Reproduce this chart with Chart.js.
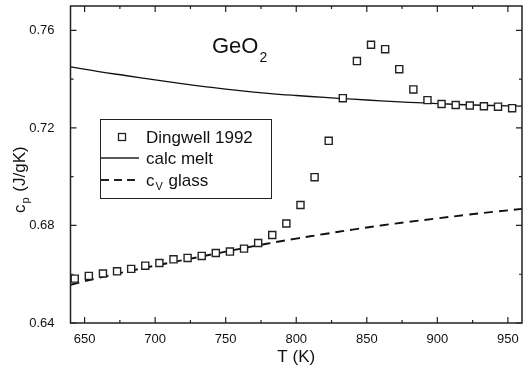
<!DOCTYPE html>
<html>
<head>
<meta charset="utf-8">
<script src="https://cdn.jsdelivr.net/npm/chart.js@4.4.1/dist/chart.umd.min.js"></script>
<style>
  html, body { margin: 0; padding: 0; background: #fff; }
  #wrap { width: 524px; height: 372px; }
</style>
</head>
<body>
<div id="wrap"><canvas id="cpChart" width="524" height="372"></canvas></div>
<script>
// Dingwell 1992 measurements
const dingwellT = [643, 653, 663, 673, 683, 693, 703, 713, 723, 733, 743, 753, 763, 773, 783, 793,
  803, 813, 823, 833, 843, 853, 863, 873, 883, 893, 903, 913, 923, 933, 943, 953];
const dingwellCp = [0.6582, 0.6593, 0.6603, 0.6612, 0.6622, 0.6635, 0.6646, 0.6661, 0.6667, 0.6675,
  0.6687, 0.6693, 0.6705, 0.6728, 0.6761, 0.6808, 0.6884, 0.6998, 0.7147, 0.7322, 0.7474, 0.7541,
  0.7523, 0.7441, 0.7358, 0.7314, 0.7298, 0.7294, 0.7292, 0.7289, 0.7287, 0.7281];

// calc melt curve
const meltT = [640, 660, 680, 700, 720, 740, 760, 780, 800, 820, 840, 860, 880, 900, 920, 940, 960];
const meltCp = [0.7450, 0.7431, 0.7414, 0.7397, 0.7381, 0.7366, 0.7353, 0.7342, 0.7333, 0.7325,
  0.7318, 0.7311, 0.7305, 0.7300, 0.7295, 0.7292, 0.7289];

// cV glass curve
const glassT = [640, 660, 680, 700, 720, 740, 760, 780, 800, 820, 840, 860, 880, 900, 920, 940, 960];
const glassCp = [0.6557, 0.6585, 0.6611, 0.6635, 0.6658, 0.6681, 0.6704, 0.6726, 0.6746, 0.6765,
  0.6783, 0.6800, 0.6815, 0.6829, 0.6843, 0.6856, 0.6868];

const xMajor = [650, 700, 750, 800, 850, 900, 950];
const xMinor = [675, 725, 775, 825, 875, 925];
const yMajor = [0.64, 0.68, 0.72, 0.76];
const yMinor = [0.66, 0.70, 0.74];
const yLabels = ['0.64', '0.68', '0.72', '0.76'];

const FONT = '"Liberation Sans", Arial, sans-serif';
const toXY = (xs, ys) => xs.map((x, i) => ({ x, y: ys[i] }));

const frame = {
  id: 'frame',
  afterDraw(chart) {
    const { ctx, chartArea: a, scales: { x, y } } = chart;
    ctx.save();
    ctx.strokeStyle = '#222';
    ctx.lineWidth = 1.5;
    ctx.strokeRect(a.left, a.top, a.right - a.left, a.bottom - a.top);

    ctx.lineWidth = 1.2;
    ctx.beginPath();
    const tickX = (v, len) => {
      const px = x.getPixelForValue(v);
      ctx.moveTo(px, a.bottom); ctx.lineTo(px, a.bottom - len);
      ctx.moveTo(px, a.top); ctx.lineTo(px, a.top + len);
    };
    const tickY = (v, len) => {
      const py = y.getPixelForValue(v);
      ctx.moveTo(a.left, py); ctx.lineTo(a.left + len, py);
      ctx.moveTo(a.right, py); ctx.lineTo(a.right - len, py);
    };
    xMajor.forEach(v => tickX(v, 6));
    xMinor.forEach(v => tickX(v, 3));
    yMajor.forEach(v => tickY(v, 6));
    yMinor.forEach(v => tickY(v, 3));
    ctx.stroke();

    // axis titles
    ctx.fillStyle = '#111';
    ctx.textBaseline = 'alphabetic';
    ctx.font = '17px ' + FONT;
    ctx.textAlign = 'center';
    ctx.fillText('T (K)', (a.left + a.right) / 2, 362);

    ctx.save();
    ctx.translate(25, 213);
    ctx.rotate(-Math.PI / 2);
    ctx.textAlign = 'left';
    ctx.font = '17px ' + FONT;
    ctx.fillText('c', 0, 0);
    let w = ctx.measureText('c').width;
    ctx.font = '11px ' + FONT;
    ctx.fillText('p', w + 1, 4);
    w += ctx.measureText('p').width + 2;
    ctx.font = '17px ' + FONT;
    ctx.fillText(' (J/gK)', w, 0);
    ctx.restore();

    // GeO2 label
    ctx.textAlign = 'left';
    ctx.font = '22px ' + FONT;
    ctx.fillText('GeO', 212, 53);
    const gw = ctx.measureText('GeO').width;
    ctx.font = '14px ' + FONT;
    ctx.fillText('2', 212 + gw + 1, 62);

    // legend box
    ctx.fillStyle = '#fff';
    ctx.fillRect(100, 119, 171, 79);
    ctx.strokeStyle = '#222';
    ctx.lineWidth = 1;
    ctx.strokeRect(100.5, 119.5, 171, 79);

    ctx.lineWidth = 1.3;
    ctx.strokeRect(118.5, 133.5, 7, 7);

    ctx.beginPath();
    ctx.lineWidth = 1.3;
    ctx.moveTo(101, 158); ctx.lineTo(139, 158);
    ctx.stroke();

    ctx.beginPath();
    ctx.lineWidth = 1.8;
    ctx.setLineDash([8, 5]);
    ctx.moveTo(101, 180); ctx.lineTo(140, 180);
    ctx.stroke();
    ctx.setLineDash([]);

    ctx.fillStyle = '#111';
    ctx.font = '17px ' + FONT;
    ctx.fillText('Dingwell 1992', 146, 143);
    ctx.fillText('calc melt', 146, 164);
    ctx.fillText('c', 146, 186);
    const cw = ctx.measureText('c').width;
    ctx.font = '11px ' + FONT;
    ctx.fillText('V', 146 + cw + 1, 190);
    const vw = ctx.measureText('V').width;
    ctx.font = '17px ' + FONT;
    ctx.fillText(' glass', 146 + cw + vw + 2, 186);
    ctx.restore();
  }
};

const zeroPad = s => { s.paddingLeft = 0; s.paddingRight = 0; s.paddingTop = 0; s.paddingBottom = 0; };

new Chart(document.getElementById('cpChart'), {
  type: 'scatter',
  data: {
    datasets: [
      {
        label: 'Dingwell 1992',
        data: toXY(dingwellT, dingwellCp),
        pointStyle: 'rect',
        pointRadius: 5,
        pointBorderWidth: 1.4,
        pointBorderColor: '#222',
        pointBackgroundColor: '#fff',
        showLine: false,
        order: 0
      },
      {
        label: 'calc melt',
        data: toXY(meltT, meltCp),
        showLine: true,
        borderColor: '#111',
        borderWidth: 1.3,
        pointRadius: 0,
        tension: 0.4,
        order: 1
      },
      {
        label: 'cV glass',
        data: toXY(glassT, glassCp),
        showLine: true,
        borderColor: '#111',
        borderWidth: 1.9,
        borderDash: [9, 6],
        pointRadius: 0,
        tension: 0.4,
        order: 2
      }
    ]
  },
  options: {
    responsive: false,
    animation: false,
    events: [],
    layout: { autoPadding: false, padding: { top: 6, right: 2, left: 0, bottom: 0 } },
    plugins: { legend: { display: false }, tooltip: { enabled: false } },
    scales: {
      x: {
        type: 'linear',
        min: 640,
        max: 960,
        grid: { display: false },
        border: { display: false },
        afterFit: s => { s.height = 49; zeroPad(s); },
        afterBuildTicks: s => { s.ticks = xMajor.map(v => ({ value: v })); },
        ticks: {
          padding: 1,
          color: '#111',
          font: { family: FONT, size: 13 },
          maxRotation: 0,
          autoSkip: false,
          callback: v => String(v)
        }
      },
      y: {
        type: 'linear',
        min: 0.64,
        max: 0.77,
        grid: { display: false },
        border: { display: false },
        afterFit: s => { s.width = 70.5; zeroPad(s); },
        afterBuildTicks: s => { s.ticks = yMajor.map(v => ({ value: v })); },
        ticks: {
          padding: 8,
          color: '#111',
          font: { family: FONT, size: 13 },
          autoSkip: false,
          callback: v => yLabels[yMajor.findIndex(m => Math.abs(m - v) < 1e-6)]
        }
      }
    }
  },
  plugins: [frame]
});
</script>
</body>
</html>
